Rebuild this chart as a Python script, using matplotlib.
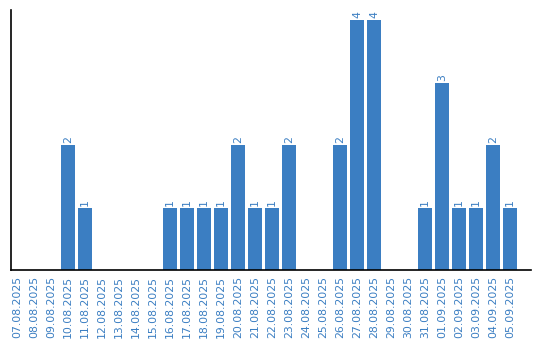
import matplotlib
matplotlib.use("Agg")
import matplotlib.pyplot as plt

dates = ["07.08.2025", "08.08.2025", "09.08.2025", "10.08.2025", "11.08.2025",
         "12.08.2025", "13.08.2025", "14.08.2025", "15.08.2025", "16.08.2025",
         "17.08.2025", "18.08.2025", "19.08.2025", "20.08.2025", "21.08.2025",
         "22.08.2025", "23.08.2025", "24.08.2025", "25.08.2025", "26.08.2025",
         "27.08.2025", "28.08.2025", "29.08.2025", "30.08.2025", "31.08.2025",
         "01.09.2025", "02.09.2025", "03.09.2025", "04.09.2025", "05.09.2025"]
counts = [0, 0, 0, 2, 1, 0, 0, 0, 0, 1,
          1, 1, 1, 2, 1, 1, 2, 0, 0, 2,
          4, 4, 0, 0, 1, 3, 1, 1, 2, 1]

blue = "#3b7ec2"
fig = plt.figure(figsize=(5.4, 3.4), dpi=100)
ax = fig.add_axes([10.7 / 540, 70 / 340, (531 - 10.7) / 540, 260 / 340])
x = list(range(len(dates)))
ax.bar(x, counts, width=14 / 17, color=blue)
for xi, c in zip(x, counts):
    if c > 0:
        ax.text(xi, c + 0.03, str(c), rotation=90, ha="center", va="bottom",
                color=blue, fontsize=7.8, family="DejaVu Sans")
ax.set_xlim(-0.37, 30.24)
ax.set_ylim(0, 4.16)
ax.set_xticks(x)
ax.set_xticklabels(dates, rotation=90, color=blue, fontsize=7.8, family="DejaVu Sans")
ax.tick_params(axis="x", length=0, pad=4)
ax.set_yticks([])
for s in ["top", "right"]:
    ax.spines[s].set_visible(False)
ax.spines["left"].set_linewidth(1.2)
ax.spines["bottom"].set_linewidth(1.2)
fig.savefig("out.png", dpi=100)
